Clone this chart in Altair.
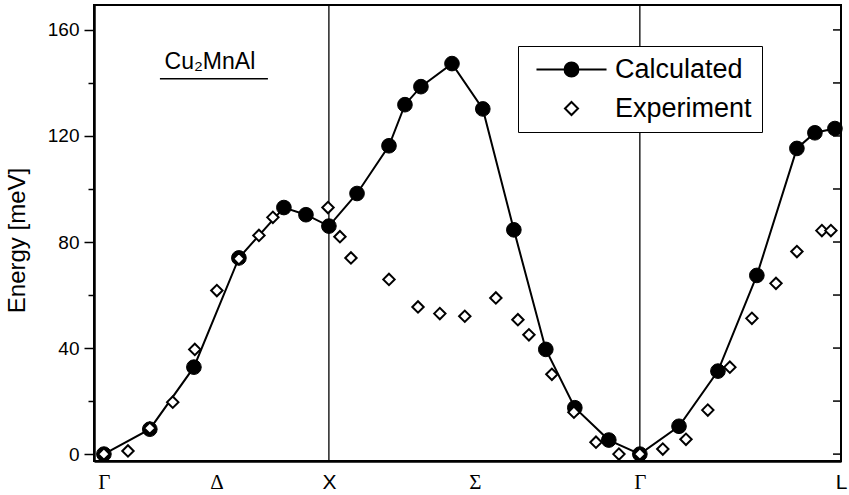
import altair as alt
import pandas as pd

# ---- data ----
calc_x = [0.0, 0.204, 0.40, 0.60, 0.80, 0.898, 1.0, 1.125, 1.267, 1.338, 1.409, 1.547,
          1.684, 1.822, 1.964, 2.093, 2.244, 2.382, 2.556, 2.729, 2.902, 3.08, 3.16, 3.249]
calc_y = [0, 9.4, 32.8, 74, 93, 90.3, 86, 98.3, 116.3, 131.8, 138.6, 147.3,
          130.2, 84.6, 39.5, 17.5, 5.3, 0, 10.5, 31.3, 67.4, 115.3, 121.2, 122.8]

exp_x = [0, 0.107, 0.204, 0.306, 0.404, 0.502, 0.60, 0.689, 0.751, 0.996, 1.049, 1.098,
         1.267, 1.396, 1.493, 1.604, 1.742, 1.84, 1.889, 1.991, 2.089, 2.187, 2.289, 2.382,
         2.484, 2.587, 2.684, 2.782, 2.88, 2.987, 3.08, 3.191, 3.231]
exp_y = [0, 1.2, 9.8, 19.6, 39.5, 61.7, 73.7, 82.5, 89.3, 93, 82, 74,
         65.9, 55.5, 53, 52, 58.9, 50.7, 45, 30.1, 15.8, 4.5, 0, 0,
         1.9, 5.6, 16.6, 32.8, 51.2, 64.4, 76.4, 84.3, 84.3]

sym_names = ["Γ", "Δ", "X", "Σ", "Γ", "L"]
sym_pos = [0, 0.5, 1, 1.649, 2.382, 3.276]
vline_pos = [1, 2.382]

y_ticks = [0, 20, 40, 60, 80, 100, 120, 140, 160]
series_names = ["Calculated", "Experiment"]

label_text = ["Cu₂MnAl"]
label_x = [0.471]
label_y = [145.3]
underline_x = [0.249]
underline_x2 = [0.729]
underline_y = [141.6]

# ---- tables ----
calc_df = pd.DataFrame({"x": calc_x, "y": calc_y})
exp_df = pd.DataFrame({"x": exp_x, "y": exp_y})
vline_df = pd.DataFrame({"x": vline_pos})
tick_df = pd.DataFrame({"y": y_ticks})
label_df = pd.DataFrame({"x": label_x, "y": label_y, "t": label_text})
uline_df = pd.DataFrame({"x": underline_x, "x2": underline_x2, "y": underline_y})
legend_df = pd.DataFrame({"series": series_names})

W, H = 747, 456

x_expr = ""
for p, n in zip(sym_pos, sym_names):
    x_expr += f"datum.value === {p} ? '{n}' : "
x_expr += "''"

xscale = alt.Scale(domain=[-0.044, 3.276], nice=False, zero=False)
yscale = alt.Scale(domain=[-2.6, 169.4], nice=False, zero=False)

xaxis = alt.Axis(values=sym_pos, labelExpr=x_expr, title=None, grid=False,
                 tickSize=0, labelPadding=10, labelFontSize=21,
                 labelFont={"condition": {"test": "datum.value === 1 || datum.value > 3",
                                          "value": "Liberation Sans"},
                            "value": "Liberation Serif"},
                 labelFlush=False, labelOverlap=False, labelBound=False,
                 labelColor="black", domainColor="black", domainWidth=2.5)
yaxis = alt.Axis(values=y_ticks, labelExpr="datum.value % 40 === 0 ? datum.label : ''",
                 title="Energy [meV]", grid=False,
                 tickSize={"condition": {"test": "datum.value % 40 === 0", "value": 10}, "value": 6},
                 tickColor="black", tickWidth=1.5, labelPadding=5,
                 labelFontSize=19, labelFont="Liberation Sans", labelColor="black",
                 titleFontSize=24, titleFont="Liberation Sans", titleFontWeight="normal",
                 titleColor="black", titleX=-77, titleY=235, titleBaseline="middle",
                 domainColor="black", domainWidth=2.5, labelOverlap=False)

X = alt.X("x:Q", scale=xscale, axis=xaxis)
Y = alt.Y("y:Q", scale=yscale, axis=yaxis)

vlines = alt.Chart(vline_df).mark_rule(color="black", strokeWidth=1.3).encode(x=X)

calc_line = alt.Chart(calc_df).mark_line(color="black", strokeWidth=2).encode(x=X, y=Y)
calc_pts = alt.Chart(calc_df).mark_point(shape="circle", filled=True, fill="black",
                                          stroke="black", strokeWidth=1, size=215,
                                          opacity=1).encode(x=X, y=Y)
exp_pts = alt.Chart(exp_df).mark_point(shape="diamond", filled=True, fill="white",
                                        stroke="black", strokeWidth=2, size=130,
                                        opacity=1).encode(x=X, y=Y)

label = alt.Chart(label_df).mark_text(font="Liberation Sans", fontSize=23, color="black",
                                       align="center", baseline="alphabetic").encode(
    x=X, y=Y, text="t:N")
uline = alt.Chart(uline_df).mark_rule(color="black", strokeWidth=1.5).encode(
    x=X, x2="x2:Q", y=Y)

right_ticks = alt.Chart(tick_df).mark_rule(color="black", strokeWidth=1.5).encode(
    x=alt.value(W - 8), x2=alt.value(W), y=Y)

# legend symbols in units of 7.5 px (symbolSize 225)
calc_path = "M-4.67,0H4.67M0.93,0A0.93,0.93,0,1,1,-0.93,0A0.93,0.93,0,1,1,0.93,0Z"
exp_path = "M0,-0.87L0.87,0L0,0.87L-0.87,0Z"

leg = dict(title=None, orient="none", legendX=424, legendY=41, padding=10,
           strokeColor="black", symbolSize=225, symbolOffset=30, labelOffset=30,
           labelFontSize=27, labelFont="Liberation Sans", labelColor="black",
           rowPadding=11, symbolStrokeWidth=2, fillColor="white")

legend_layer = alt.Chart(legend_df).transform_filter("false").mark_point(
    filled=True, strokeWidth=2, opacity=1).encode(
    shape=alt.Shape("series:N", scale=alt.Scale(domain=series_names, range=[calc_path, exp_path]),
                    legend=alt.Legend(**leg)),
    fill=alt.Fill("series:N", scale=alt.Scale(domain=series_names, range=["black", "white"]),
                  legend=alt.Legend(**leg)),
    stroke=alt.Stroke("series:N", scale=alt.Scale(domain=series_names, range=["black", "black"]),
                      legend=alt.Legend(**leg)),
)

chart = alt.layer(vlines, calc_line, calc_pts, exp_pts, label, uline, right_ticks,
                  legend_layer).properties(
    width=W, height=H,
    autosize=alt.AutoSizeParams(type="none"),
    padding={"left": 94, "top": 5, "right": 8, "bottom": 34},
    background="white",
).configure_view(stroke="black", strokeWidth=2)

chart.save("out.html", embed_options={"renderer": "svg", "actions": False})
